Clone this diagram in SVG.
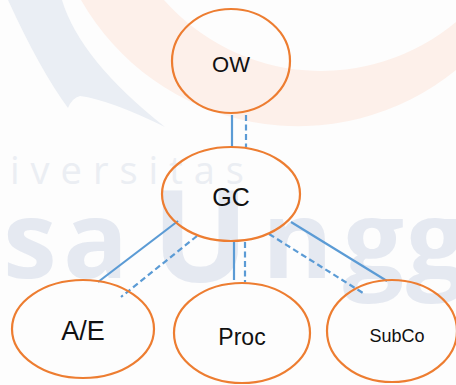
<svg xmlns="http://www.w3.org/2000/svg" width="456" height="385" viewBox="0 0 456 385">
<style>
.node{fill:none;stroke:#ED7D31;stroke-width:2.2}
.lbl{font-family:"Liberation Sans",Arial,sans-serif;fill:#111;text-anchor:middle}
.c{stroke:#5B9BD5;stroke-width:2.2;fill:none}
.d{stroke-dasharray:6 3.5}
.wm{font-family:"Open Sans","DejaVu Sans",sans-serif}
</style>
<rect width="456" height="385" fill="#FDFDFD"/>
<g id="watermark">
<path d="M81 0 A250 250 0 0 0 456 70 L456 22 A210 210 0 0 1 164 0 Z" fill="#FDF0EA"/>
<path d="M8 0 L62 0 Q80 60 165 127 Q110 100 80 96 Q72 98 68 108 Q40 70 8 0 Z" fill="#EAEEF4"/>
<text class="wm" x="10" y="184" font-size="38" letter-spacing="11" fill="#EBEEF3">iversitas</text>
<text class="wm" font-weight="bold" font-size="108" fill="#E5E9F1" y="278"><tspan x="3">s</tspan><tspan x="63">a</tspan><tspan x="152" font-size="128" y="282">U</tspan><tspan x="262" y="278">n</tspan><tspan x="343">g</tspan><tspan x="406">g</tspan></text>
</g>
<g id="connectors">
<line class="c" x1="232" y1="115" x2="232" y2="147"/>
<line class="c d" x1="246" y1="115" x2="246" y2="147"/>
<line class="c" x1="178" y1="221" x2="98" y2="282"/>
<line class="c d" x1="197" y1="236" x2="121" y2="297"/>
<line class="c" x1="234" y1="242" x2="234" y2="280"/>
<line class="c d" x1="245" y1="242" x2="245" y2="282"/>
<line class="c" x1="291" y1="222" x2="387" y2="281"/>
<line class="c d" x1="269" y1="234" x2="363" y2="293"/>
</g>
<g id="OW">
<ellipse class="node" cx="231" cy="61" rx="59" ry="52"/>
<text class="lbl" x="231" y="72" font-size="22">OW</text>
</g>
<g id="GC">
<ellipse class="node" cx="231" cy="194" rx="69" ry="47"/>
<text class="lbl" x="231" y="206" font-size="25">GC</text>
</g>
<g id="AE">
<ellipse class="node" cx="83" cy="329" rx="71" ry="49"/>
<text class="lbl" x="83" y="340" font-size="27">A/E</text>
</g>
<g id="Proc">
<ellipse class="node" cx="242" cy="333" rx="68" ry="50"/>
<text class="lbl" x="242" y="345" font-size="23">Proc</text>
</g>
<g id="SubCo">
<ellipse class="node" cx="392" cy="331" rx="65" ry="51"/>
<text class="lbl" x="397" y="342" font-size="18">SubCo</text>
</g>
</svg>
